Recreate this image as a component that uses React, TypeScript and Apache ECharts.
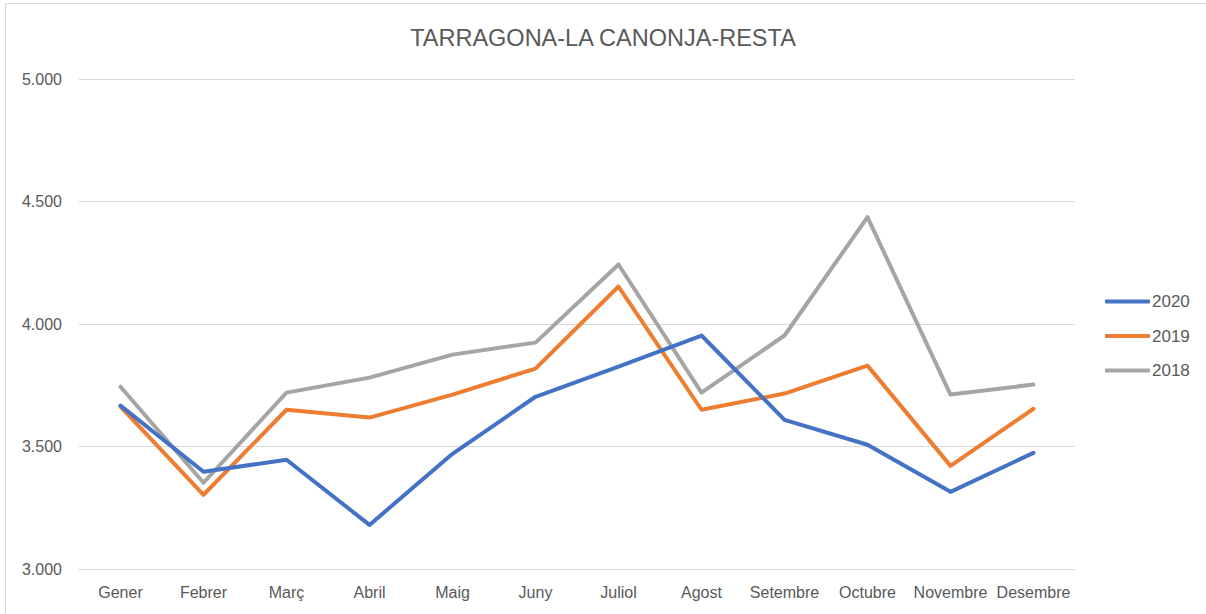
import React, { useEffect, useRef } from "react";
import * as echarts from "echarts";

const months = ["Gener", "Febrer", "Març", "Abril", "Maig", "Juny", "Juliol", "Agost", "Setembre", "Octubre", "Novembre", "Desembre"];
const s2020 = [3667, 3397, 3446, 3180, 3470, 3703, 3826, 3953, 3609, 3507, 3315, 3474];
const s2019 = [3663, 3303, 3650, 3618, 3712, 3818, 4153, 3650, 3716, 3830, 3421, 3654];
const s2018 = [3744, 3352, 3720, 3781, 3875, 3924, 4243, 3720, 3953, 4436, 3712, 3753];
const seriesNames = ["2020", "2019", "2018"];
const colors = ["#4472C4", "#ED7D31", "#A5A5A5"];
const titleText = "TARRAGONA-LA CANONJA-RESTA";

export default function App() {
  const ref = useRef<HTMLDivElement>(null);
  useEffect(() => {
    document.body.style.margin = "0";
    const chart = echarts.init(ref.current!, null, { renderer: "svg" });
    const font = "'Liberation Sans', 'Noto Sans', sans-serif";
    const data = [s2020, s2019, s2018];
    chart.setOption({
      animation: false,
      textStyle: { fontFamily: font },
      title: {
        text: titleText,
        left: "center",
        top: 26,
        padding: 0,
        textStyle: { fontSize: 23.5, fontWeight: "normal", color: "#595959", fontFamily: font },
      },
      legend: {
        orient: "vertical",
        left: 1105,
        top: 293,
        padding: 0,
        itemWidth: 45,
        itemHeight: 4,
        itemGap: 17.5,
        icon: "roundRect",
        textStyle: { fontSize: 17, color: "#595959", fontFamily: font, padding: [0, 0, 0, -3] },
        data: seriesNames,
      },
      grid: { left: 79, right: 131, top: 79, bottom: 45 },
      xAxis: {
        type: "category",
        data: months,
        boundaryGap: true,
        axisLine: { lineStyle: { color: "#D9D9D9", width: 1 } },
        axisTick: { show: false },
        axisLabel: { color: "#595959", fontSize: 16, margin: 15, interval: 0, fontFamily: font },
      },
      yAxis: {
        type: "value",
        min: 3000,
        max: 5000,
        interval: 500,
        axisLine: { show: false },
        axisTick: { show: false },
        splitLine: { lineStyle: { color: "#D9D9D9", width: 1 } },
        axisLabel: {
          color: "#595959",
          fontSize: 16,
          margin: 17,
          fontFamily: font,
          formatter: (v: number) => (v / 1000).toFixed(3),
        },
      },
      series: seriesNames.map((n, i) => ({
        name: n,
        type: "line",
        data: data[i],
        symbol: "none",
        lineStyle: { width: 4, color: colors[i], cap: "round", join: "round" },
        itemStyle: { color: colors[i] },
        z: 10 - i,
      })),
    });
    return () => chart.dispose();
  }, []);
  return (
    <div style={{ position: "relative", width: 1206, height: 614, overflow: "hidden", background: "#fff" }}>
      <div
        style={{
          position: "absolute",
          left: 5,
          top: 3,
          width: 1230,
          height: 640,
          border: "1.5px solid #D9D9D9",
          boxSizing: "border-box",
        }}
      />
      <div ref={ref} style={{ position: "absolute", left: 0, top: 0, width: 1206, height: 614 }} />
    </div>
  );
}
